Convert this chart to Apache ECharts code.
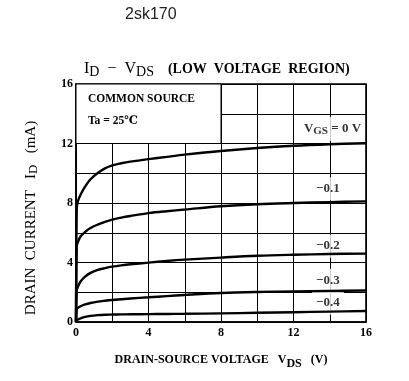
<!DOCTYPE html>
<html>
<head>
<meta charset="utf-8">
<script src="https://cdn.jsdelivr.net/npm/echarts@6/dist/echarts.min.js"></script>
<style>html,body{margin:0;padding:0;background:#fff}#c{width:409px;height:381px}</style>
</head>
<body>
<div id="c"></div>
<script>
// ---- data ----
var vds = [0, 0.04, 0.1, 0.25, 0.5, 0.8, 1.2, 1.6, 2, 2.5, 3, 4, 5, 6, 8, 10, 12, 14, 16];
var id_vgs0   = [0, 7.6, 8.1, 8.55, 9.1, 9.6, 10.02, 10.33, 10.53, 10.67, 10.78, 10.95, 11.1, 11.25, 11.5, 11.7, 11.85, 11.95, 12.02];
var id_vgsm01 = [0, 5.1, 5.35, 5.75, 6.05, 6.32, 6.55, 6.73, 6.88, 7.02, 7.13, 7.32, 7.45, 7.56, 7.78, 7.92, 8.0, 8.06, 8.11];
var id_vgsm02 = [0, 2.1, 2.35, 2.72, 3.05, 3.3, 3.5, 3.62, 3.72, 3.81, 3.88, 3.99, 4.1, 4.19, 4.33, 4.45, 4.52, 4.57, 4.6];
var id_vgsm03 = [0, 0.88, 0.95, 1.06, 1.18, 1.28, 1.37, 1.43, 1.48, 1.53, 1.58, 1.66, 1.74, 1.82, 1.95, 2.02, 2.06, 2.09, 2.12];
var id_vgsm04 = [0, 0.12, 0.16, 0.24, 0.34, 0.41, 0.46, 0.49, 0.5, 0.51, 0.52, 0.53, 0.54, 0.55, 0.58, 0.62, 0.66, 0.7, 0.74];
var curveSets = [id_vgs0, id_vgsm01, id_vgsm02, id_vgsm03, id_vgsm04];
var vgsLabels = ['0', '\u22120.1', '\u22120.2', '\u22120.3', '\u22120.4'];
var labelX = [14.15, 13.9, 13.9, 13.9, 13.9];
var labelY = [12.97, 8.95, 5.1, 2.8, 1.27];
var xTickLabels = ['0', '4', '8', '12', '16'];
var yTickLabels = ['0', '4', '8', '12', '16'];

var SERIF = '"Liberation Serif", "DejaVu Serif", serif';
var chart = echarts.init(document.getElementById('c'), null, {renderer: 'canvas'});

function pairs(ys) { return vds.map(function (v, i) { return [v, ys[i]]; }); }

var series = curveSets.map(function (ys) {
  return {
    type: 'line', data: pairs(ys), symbol: 'none', smooth: 0.35,
    lineStyle: {color: '#000', width: 2.4}, z: 3, silent: true
  };
});
// white text box (no grid inside)
series.push({
  type: 'line', data: [], z: 2, silent: true,
  markArea: {
    silent: true,
    itemStyle: {color: '#fff', borderColor: '#000', borderWidth: 1},
    data: [[{coord: [0, 16]}, {coord: [8, 12]}]]
  }
});
// curve labels
series.push({
  type: 'scatter', symbolSize: 0, z: 2, silent: true,
  data: vgsLabels.map(function (t, i) { return {value: [labelX[i], labelY[i]], name: t}; }),
  label: {
    show: true, position: 'inside', color: '#000',
    backgroundColor: '#fff', padding: [5, 4, 5, 4],
    fontFamily: SERIF, fontWeight: 'bold', fontSize: 13,
    formatter: function (p) {
      if (p.dataIndex === 0) return '{v|V}{s|GS}{v| = 0 V}';
      return p.name;
    },
    rich: {
      v: {fontFamily: SERIF, fontWeight: 'bold', fontSize: 13, lineHeight: 14, verticalAlign: 'top'},
      s: {fontFamily: SERIF, fontWeight: 'bold', fontSize: 11, lineHeight: 14, verticalAlign: 'top', padding: [4, 0, 0, 0]}
    }
  }
});

var axisLabelCommon = {color: '#000', fontFamily: SERIF, fontWeight: 'bold', fontSize: 12};

chart.setOption({
  animation: false,
  backgroundColor: '#fff',
  grid: {left: 76, right: 43, top: 84, bottom: 59, show: true, borderColor: '#000', borderWidth: 1.6, backgroundColor: 'transparent'},
  xAxis: {
    type: 'value', min: 0, max: 16, interval: 2,
    axisLine: {lineStyle: {color: '#000', width: 1.6}},
    axisTick: {show: false},
    splitLine: {lineStyle: {color: '#000', width: 1}},
    axisLabel: Object.assign({margin: 5, formatter: function (v) { return v % 4 === 0 ? xTickLabels[v / 4] : ''; }}, axisLabelCommon),
    name: '{b|DRAIN-SOURCE VOLTAGE}{b|   V}{s|DS}{b|   (V)}',
    nameLocation: 'middle', nameGap: 32,
    nameTextStyle: {
      rich: {
        b: {fontFamily: SERIF, fontWeight: 'bold', fontSize: 12, color: '#000', lineHeight: 14, verticalAlign: 'top'},
        s: {fontFamily: SERIF, fontWeight: 'bold', fontSize: 12, color: '#000', lineHeight: 14, verticalAlign: 'top', padding: [4, 0, 0, 0]}
      }
    }
  },
  yAxis: {
    type: 'value', min: 0, max: 16, interval: 2,
    axisLine: {lineStyle: {color: '#000', width: 1.6}},
    axisTick: {show: false},
    splitLine: {lineStyle: {color: '#000', width: 1}},
    axisLabel: Object.assign({margin: 3, formatter: function (v) { return v % 4 === 0 ? yTickLabels[v / 4] : ''; }}, axisLabelCommon)
  },
  graphic: [
    {type: 'text', z: 100, left: 125, top: 7, style: {text: '2sk170', fill: '#222', font: '16px "Liberation Sans", Arial, sans-serif'}},
    {type: 'text', z: 100, left: 84, top: 61, style: {
      text: '{m|I}{s|D}{m|  \u2212  V}{s|DS}{g|    (LOW  VOLTAGE  REGION)}',
      rich: {
        m: {fontFamily: SERIF, fontSize: 16, fill: '#000', lineHeight: 17, verticalAlign: 'top'},
        s: {fontFamily: SERIF, fontSize: 14, fill: '#000', lineHeight: 17, verticalAlign: 'top', padding: [4, 0, 0, 0]},
        g: {fontFamily: SERIF, fontWeight: 'bold', fontSize: 14, fill: '#000', lineHeight: 17, verticalAlign: 'top', padding: [1, 0, 0, 0]}
      }
    }},
    {type: 'text', z: 100, left: 88, top: 93, style: {text: 'COMMON SOURCE', fill: '#000', font: 'bold 11.5px ' + SERIF}},
    {type: 'text', z: 100, left: 88, top: 115, style: {text: 'Ta = 25\u2103', fill: '#000', font: 'bold 11.5px ' + SERIF}},
    {type: 'text', z: 100, x: 32, y: 218, rotation: Math.PI / 2, style: {
      text: '{m|DRAIN  CURRENT   I}{s|D}{m|   (mA)}',
      align: 'center', verticalAlign: 'middle',
      rich: {
        m: {fontFamily: SERIF, fontSize: 15, fill: '#000', lineHeight: 17, verticalAlign: 'top'},
        s: {fontFamily: SERIF, fontSize: 13, fill: '#000', lineHeight: 17, verticalAlign: 'top', padding: [4, 0, 0, 0]}
      }
    }}
  ],
  series: series
});
</script>
</body>
</html>
